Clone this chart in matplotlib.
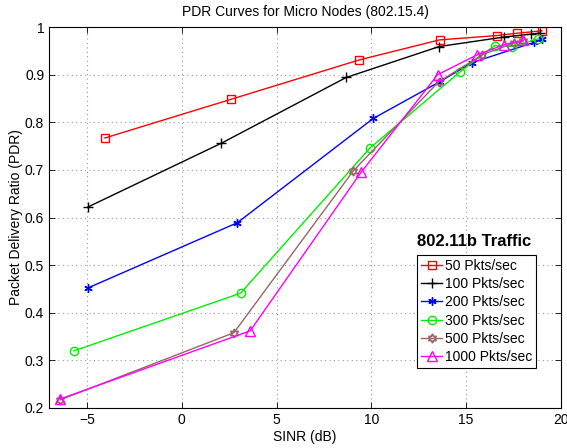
import matplotlib
matplotlib.use("Agg")
import matplotlib.pyplot as plt
from matplotlib import rcParams

rcParams.update({
    "font.family": ["Liberation Sans", "DejaVu Sans"],
    "font.size": 10,
    "xtick.direction": "in",
    "ytick.direction": "in",
    "xtick.top": True,
    "ytick.right": True,
})

# SINR (dB) / PDR per traffic load
x50 = [-4.05, 2.58, 9.37, 13.6, 16.6, 17.7, 19.0]
y50 = [0.767, 0.848, 0.931, 0.973, 0.982, 0.987, 0.992]

x100 = [-4.95, 2.09, 8.67, 13.58, 17.0, 18.4, 18.9]
y100 = [0.622, 0.756, 0.894, 0.959, 0.979, 0.985, 0.987]

x200 = [-4.95, 2.93, 10.1, 13.6, 15.3, 18.6, 19.0]
y200 = [0.452, 0.589, 0.808, 0.885, 0.925, 0.968, 0.975]

x300 = [-5.68, 3.1, 9.93, 14.65, 16.5, 17.4, 18.8]
y300 = [0.320, 0.441, 0.746, 0.905, 0.961, 0.959, 0.975]

x500 = [-6.42, 2.75, 9.05, 13.55, 15.86, 17.5, 18.0]
y500 = [0.217, 0.358, 0.698, 0.885, 0.942, 0.966, 0.970]

x1000 = [-6.4, 3.61, 9.46, 13.5, 15.55, 17.0, 18.0]
y1000 = [0.219, 0.362, 0.695, 0.900, 0.941, 0.963, 0.972]

labels = ["50 Pkts/sec", "100 Pkts/sec", "200 Pkts/sec",
          "300 Pkts/sec", "500 Pkts/sec", "1000 Pkts/sec"]

fig = plt.figure(figsize=(5.67, 4.48), dpi=100)
ax = fig.add_axes([0.0864, 0.0893, 0.9030, 0.8504])

ax.plot(x50, y50, color="#ff0000", marker="s", mfc="none", ms=5.5, lw=1.0, label=labels[0])
ax.plot(x100, y100, color="black", marker="+", ms=7, mew=1.0, lw=1.0, label=labels[1])
ax.plot(x200, y200, color="#0000ff", marker=(6, 2, 0), ms=6, mew=1.0, lw=1.0, label=labels[2])
ax.plot(x300, y300, color="#00ee00", marker="o", mfc="none", ms=6, lw=1.0, label=labels[3])
ax.plot(x500, y500, color="#996666", marker=(6, 1, 0), mfc="none", ms=6.5, mew=1.2, lw=1.0, label=labels[4])
ax.plot(x1000, y1000, color="#ff00ff", marker="^", mfc="none", ms=6.5, lw=1.0, label=labels[5])

ax.set_xlim(-7, 20)
ax.set_ylim(0.2, 1.0)
ax.set_xticks([-5, 0, 5, 10, 15, 20])
ax.set_yticks([0.2, 0.3, 0.4, 0.5, 0.6, 0.7, 0.8, 0.9, 1.0])
ax.set_yticklabels(["0.2", "0.3", "0.4", "0.5", "0.6", "0.7", "0.8", "0.9", "1"])
ax.set_xticklabels(["\u22125", "0", "5", "10", "15", "20"])
ax.grid(True, linestyle=(0, (1, 3)), color="#999999", linewidth=0.8)
ax.tick_params(length=4, width=0.6)
for s in ax.spines.values():
    s.set_linewidth(0.8)

ax.set_xlabel("SINR (dB)", labelpad=2)
ax.set_ylabel("Packet Delivery Ratio (PDR)", labelpad=1)
ax.set_title("PDR Curves for Micro Nodes (802.15.4)", fontsize=10, pad=8)

leg = ax.legend(loc="upper left", bbox_to_anchor=(0.719, 0.402), fontsize=10,
                handlelength=1.5, handletextpad=0.2, borderpad=0.3,
                labelspacing=0.3, borderaxespad=0, fancybox=False,
                framealpha=1, edgecolor="black")
leg.get_frame().set_linewidth(0.8)
ax.text(0.830, 0.436, "802.11b Traffic", transform=ax.transAxes,
        ha="center", va="center", fontsize=12, fontweight="bold")

fig.savefig("out.png", dpi=100)
